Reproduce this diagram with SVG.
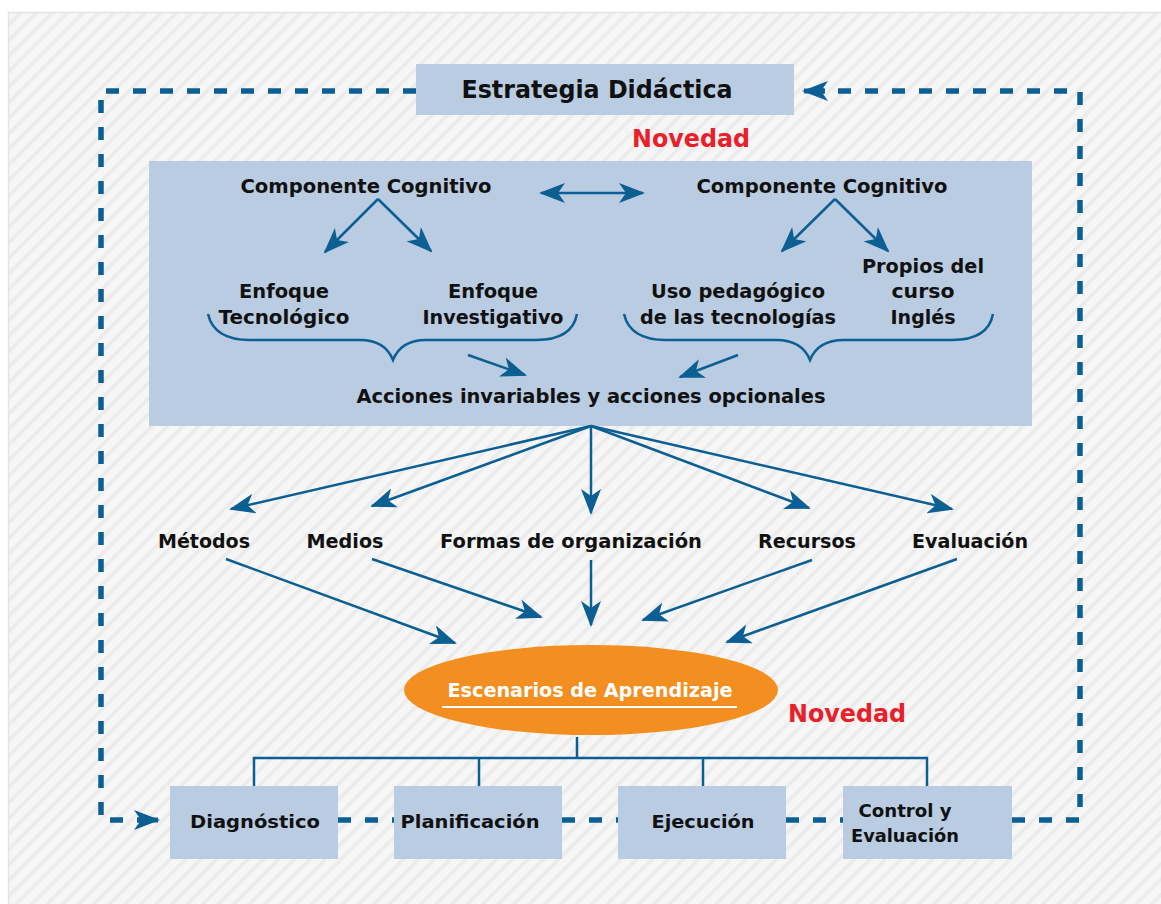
<svg xmlns="http://www.w3.org/2000/svg" width="1161" height="904" viewBox="0 0 1161 904">
<defs>
<pattern id="stripes" patternUnits="userSpaceOnUse" width="11" height="11" patternTransform="rotate(45)">
<rect width="11" height="11" fill="#f6f6f6"/>
<rect width="3.5" height="11" fill="#ebebeb"/>
</pattern>
<marker id="ah" markerUnits="userSpaceOnUse" markerWidth="26" markerHeight="20" refX="24" refY="10" orient="auto" viewBox="0 0 26 20">
<path d="M0,0 L26,10 L0,20 L7,10 Z" fill="#0b5f93"/>
</marker>
<marker id="ahs" markerUnits="userSpaceOnUse" markerWidth="26" markerHeight="20" refX="2" refY="10" orient="auto" viewBox="0 0 26 20">
<path d="M26,0 L0,10 L26,20 L19,10 Z" fill="#0b5f93"/>
</marker>
</defs>
<style>
.box{fill:#b9cce2}
.t{font-family:"DejaVu Sans","Liberation Sans",sans-serif;font-weight:bold;font-size:19px;fill:#111;text-anchor:middle}
.big{font-size:24px}
.red{fill:#e8202a;font-size:24px}
.sm{font-size:18.5px}
.ln{fill:none;stroke:#0b5f93;stroke-width:2.5}
.dash{fill:none;stroke:#0b5f93;stroke-width:5.5;stroke-dasharray:13 14}
.tree{fill:none;stroke:#0b5f93;stroke-width:2.5}
</style>
<rect x="0" y="0" width="1161" height="904" fill="#ffffff"/>
<rect x="8.5" y="12.5" width="1160" height="900" fill="url(#stripes)" stroke="#e4e4e4" stroke-width="1.5"/>

<g id="panel">
<rect class="box" x="149" y="161" width="883" height="265"/>
</g>

<g id="connectors">
<path class="dash" d="M416,91 L101,91 L101,820 L150,820"/>
<path class="dash" d="M338,820 L394,820"/>
<path class="dash" d="M562,820 L618,820"/>
<path class="dash" d="M786,820 L843,820"/>
<path class="dash" d="M1012,820 L1080,820 L1080,91 L815,91"/>
<path d="M145,820 L158,820" fill="none" stroke="#0b5f93" stroke-width="5" marker-end="url(#ah)"/>
<path d="M825,91 L804,91" fill="none" stroke="#0b5f93" stroke-width="5" marker-end="url(#ah)"/>
<path class="ln" d="M541,193 L643,193" marker-start="url(#ahs)" marker-end="url(#ah)"/>
<path class="ln" d="M378,199 L325,252" marker-end="url(#ah)"/>
<path class="ln" d="M378,199 L431,251" marker-end="url(#ah)"/>
<path class="ln" d="M835,199 L782,251" marker-end="url(#ah)"/>
<path class="ln" d="M835,199 L888,251" marker-end="url(#ah)"/>
<path class="ln" d="M208,314 Q214,340 250,340 L360,340 Q385,340 393,360 Q401,340 426,340 L536,340 Q572,340 577,314"/>
<path class="ln" d="M624,314 Q630,340 666,340 L776,340 Q802,340 810,360 Q818,340 844,340 L952,340 Q988,340 993,314"/>
<path class="ln" d="M468,355 L525,375" marker-end="url(#ah)"/>
<path class="ln" d="M738,355 L680,377" marker-end="url(#ah)"/>
<path class="ln" d="M591,426 L231,509" marker-end="url(#ah)"/>
<path class="ln" d="M591,426 L372,506" marker-end="url(#ah)"/>
<path class="ln" d="M591,426 L591,513" marker-end="url(#ah)"/>
<path class="ln" d="M591,426 L809,508" marker-end="url(#ah)"/>
<path class="ln" d="M591,426 L952,509" marker-end="url(#ah)"/>
<path class="ln" d="M226,559 L455,643" marker-end="url(#ah)"/>
<path class="ln" d="M372,559 L541,617" marker-end="url(#ah)"/>
<path class="ln" d="M591,560 L591,625" marker-end="url(#ah)"/>
<path class="ln" d="M812,560 L643,620" marker-end="url(#ah)"/>
<path class="ln" d="M957,559 L727,642" marker-end="url(#ah)"/>
<path class="tree" d="M577,737 L577,758 M254,786 L254,758 L927,758 L927,786 M479,758 L479,786 M703,758 L703,786"/>
</g>

<g id="estrategia">
<rect class="box" x="416" y="64" width="378" height="51"/>
<text class="t big" x="597" y="98" textLength="271" lengthAdjust="spacingAndGlyphs">Estrategia Didáctica</text>
</g>
<g id="novedad1"><text class="t red" x="691" y="147" textLength="118" lengthAdjust="spacingAndGlyphs">Novedad</text></g>

<g id="cc1"><text class="t" x="366" y="193" textLength="251" lengthAdjust="spacingAndGlyphs">Componente Cognitivo</text></g>
<g id="cc2"><text class="t" x="822" y="193" textLength="251" lengthAdjust="spacingAndGlyphs">Componente Cognitivo</text></g>
<g id="enfTec"><text class="t" x="284" y="298" textLength="90" lengthAdjust="spacingAndGlyphs">Enfoque</text><text class="t" x="284" y="324" textLength="131" lengthAdjust="spacingAndGlyphs">Tecnológico</text></g>
<g id="enfInv"><text class="t" x="493" y="298" textLength="90" lengthAdjust="spacingAndGlyphs">Enfoque</text><text class="t" x="493" y="324" textLength="141" lengthAdjust="spacingAndGlyphs">Investigativo</text></g>
<g id="uso"><text class="t" x="738" y="298" textLength="174" lengthAdjust="spacingAndGlyphs">Uso pedagógico</text><text class="t" x="738" y="324" textLength="196" lengthAdjust="spacingAndGlyphs">de las tecnologías</text></g>
<g id="propios"><text class="t" x="923" y="273" textLength="122" lengthAdjust="spacingAndGlyphs">Propios del</text><text class="t" x="923" y="298" textLength="63" lengthAdjust="spacingAndGlyphs">curso</text><text class="t" x="923" y="324" textLength="65" lengthAdjust="spacingAndGlyphs">Inglés</text></g>
<g id="acciones"><text class="t" x="591" y="403" textLength="469" lengthAdjust="spacingAndGlyphs">Acciones invariables y acciones opcionales</text></g>

<g id="metodos"><text class="t" x="204" y="548" textLength="92" lengthAdjust="spacingAndGlyphs">Métodos</text></g>
<g id="medios"><text class="t" x="345" y="548" textLength="77" lengthAdjust="spacingAndGlyphs">Medios</text></g>
<g id="formas"><text class="t" x="571" y="548" textLength="262" lengthAdjust="spacingAndGlyphs">Formas de organización</text></g>
<g id="recursos"><text class="t" x="807" y="548" textLength="98" lengthAdjust="spacingAndGlyphs">Recursos</text></g>
<g id="evaluacion"><text class="t" x="970" y="548" textLength="116" lengthAdjust="spacingAndGlyphs">Evaluación</text></g>

<g id="escenarios">
<ellipse cx="591" cy="690" rx="187" ry="45" fill="#f38f20"/>
<text class="t" x="590" y="697" style="fill:#ffffff;font-size:20px;font-weight:600" textLength="285" lengthAdjust="spacingAndGlyphs">Escenarios de Aprendizaje</text>
<line x1="442" y1="707" x2="737" y2="707" stroke="#ffffff" stroke-width="2"/>
</g>
<g id="novedad2"><text class="t red" x="847" y="722" textLength="118" lengthAdjust="spacingAndGlyphs">Novedad</text></g>

<g id="diagnostico"><rect class="box" x="170" y="786" width="168" height="73"/><text class="t sm" x="255" y="828" textLength="130" lengthAdjust="spacingAndGlyphs">Diagnóstico</text></g>
<g id="planificacion"><rect class="box" x="394" y="786" width="168" height="73"/><text class="t sm" x="470" y="828" textLength="139" lengthAdjust="spacingAndGlyphs">Planificación</text></g>
<g id="ejecucion"><rect class="box" x="618" y="786" width="168" height="73"/><text class="t sm" x="703" y="828" textLength="103" lengthAdjust="spacingAndGlyphs">Ejecución</text></g>
<g id="control"><rect class="box" x="843" y="786" width="169" height="73"/><text class="t sm" x="905" y="817" textLength="93" lengthAdjust="spacingAndGlyphs">Control y</text><text class="t sm" x="905" y="842" textLength="108" lengthAdjust="spacingAndGlyphs">Evaluación</text></g>
</svg>
